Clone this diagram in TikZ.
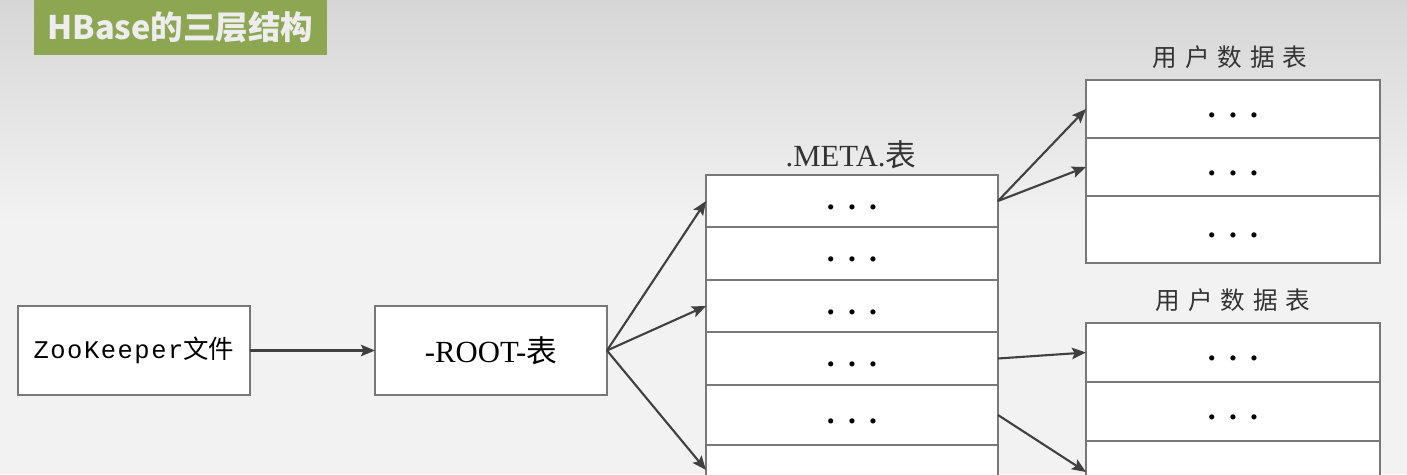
\documentclass[tikz,border=0pt]{standalone}
\usepackage{fontspec}
\setmainfont{Liberation Serif}
\newfontfamily\cjk{Noto Sans CJK SC}
\newfontfamily\zkmono[LetterSpace=6]{Liberation Mono}
\usetikzlibrary{arrows.meta,positioning}
\definecolor{TitleGreen}{RGB}{141,166,82}
\definecolor{BoxLine}{RGB}{120,120,120}
\definecolor{ArrowGray}{RGB}{64,64,64}
\definecolor{BgGray}{RGB}{242,242,242}
\definecolor{BgTop}{RGB}{214,214,214}
\newcommand{\rowdots}{\fontsize{18}{24}\selectfont\strut\textbf{.\hspace{7.5pt}.\hspace{7.5pt}.}}
\newcommand{\usertable}{{\cjk 用\hspace{4.5pt}户\hspace{4.5pt}数\hspace{4.5pt}据\hspace{4.5pt}表}}

\begin{document}
\begin{tikzpicture}[x=0.02cm,y=-0.02cm,
  box/.style={draw=BoxLine,fill=white,line width=0.9pt,inner sep=0pt,outer sep=0pt,
              minimum width=4.64cm,minimum height=1.78cm,font=\fontsize{14.5}{17}\selectfont},
  metarow/.style={draw=BoxLine,fill=white,line width=0.9pt,inner sep=0pt,outer sep=0pt,
              minimum width=5.84cm},
  userrow/.style={draw=BoxLine,fill=white,line width=0.9pt,inner sep=0pt,outer sep=0pt,
              minimum width=5.88cm},
  tabtitle/.style={font=\fontsize{17.5}{20}\selectfont,text=black!80},
  link/.style={-{Stealth[length=8pt,width=6.5pt,inset=1.5pt]},ArrowGray,line width=1.2pt},
]
% page and background
\clip (0,0) rectangle (1407,474);
\shade[top color=BgTop,bottom color=BgGray] (0,0) rectangle (1407,221);
\fill[BgGray] (0,220) rectangle (1407,474);

% title bar
\node[fill=TitleGreen,text=white!93!black,font=\cjk\bfseries\fontsize{18.5}{22}\selectfont,
      minimum width=5.86cm,minimum height=1.1cm,inner sep=0pt] (title) at (180.5,27.5)
  {HBase的三层结构};

% left boxes
\node[box] (zk) at (134,350.5) {{\zkmono ZooKeeper}{\cjk 文件}};
\node[box,font=\fontsize{17.5}{20}\selectfont] (root) at (491,350.5) {-ROOT-{\cjk 表}};

% .META. table
\node[tabtitle] (metatitle) at (851,155) {.META.{\cjk 表}};
\node[metarow,minimum height=1.04cm] (m1) at (852,201) {\rowdots};
\node[metarow,minimum height=1.06cm] (m2) at (852,253.5) {\rowdots};
\node[metarow,minimum height=1.04cm] (m3) at (852,306) {\rowdots};
\node[metarow,minimum height=1.06cm] (m4) at (852,358.5) {\rowdots};
\node[metarow,minimum height=1.2cm] (m5) at (852,415) {\rowdots};
\node[metarow,minimum height=1.0cm] (m6) at (852,470) {};

% user tables
\node[tabtitle,font=\fontsize{14}{16}\selectfont] (usertitle1) at (1230,57) {\usertable};
\node[userrow,minimum height=1.16cm] (u1) at (1233,109) {\rowdots};
\node[userrow,minimum height=1.16cm] (u2) at (1233,167) {\rowdots};
\node[userrow,minimum height=1.34cm] (u3) at (1233,229.5) {\rowdots};

\node[tabtitle,font=\fontsize{14}{16}\selectfont] (usertitle2) at (1233,300) {\usertable};
\node[userrow,minimum height=1.18cm] (v1) at (1233,352.5) {\rowdots};
\node[userrow,minimum height=1.18cm] (v2) at (1233,411.5) {\rowdots};
\node[userrow,minimum height=1.24cm] (v3) at (1233,472) {};

% connectors
\draw[link] (zk) -- (root);
\draw[link] (root.east) -- (m1.west);
\draw[link] (root.east) -- (m3.west);
\draw[link] (root.east) -- (m6.west);
\draw[link] (m1.east) -- (u1.west);
\draw[link] (m1.east) -- (u2.west);
\draw[link] (m4.east) -- (v1.west);
\draw[link] (m5.east) -- (v3.west);
\end{tikzpicture}
\end{document}
